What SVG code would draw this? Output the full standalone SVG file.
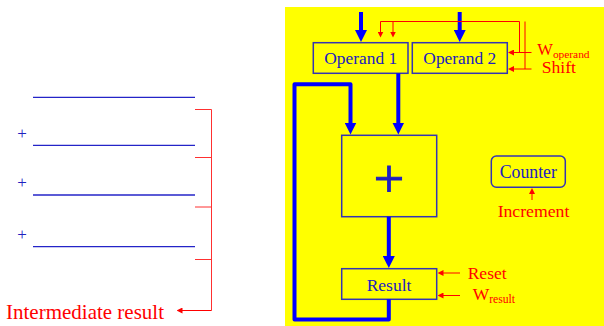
<svg xmlns="http://www.w3.org/2000/svg" width="604" height="326" viewBox="0 0 604 326">
<defs>
<style>
.t{font-family:"Liberation Serif","Times New Roman",serif;}
.bt{fill:#2020c0;}
.rt{fill:#ff0000;}
.box{fill:#ffff00;stroke:#3434b4;stroke-width:1.5;}
.thick{fill:none;stroke:#0000ff;stroke-width:4;stroke-linejoin:round;}
.thin{fill:none;stroke:#ff0000;stroke-width:1;}
.lb{stroke:#2424c8;stroke-width:1.3;}
.br{fill:none;stroke:#ff3030;stroke-width:1;}
</style>
<marker id="ab" markerUnits="userSpaceOnUse" markerWidth="12" markerHeight="12" viewBox="0 0 12 12" refX="1" refY="6" orient="auto">
<path d="M0,0 L12,6 L0,12 z" fill="#0000ff"/>
</marker>
<marker id="ar" markerUnits="userSpaceOnUse" markerWidth="6" markerHeight="6" viewBox="0 0 6 6" refX="0.5" refY="3" orient="auto">
<path d="M0,0 L6,3 L0,6 z" fill="#ff0000"/>
</marker>
</defs>

<!-- left: partial sums -->
<g id="partials">
<line class="lb" x1="33" y1="97.3" x2="195" y2="97.3"/>
<line class="lb" x1="33" y1="145.3" x2="195" y2="145.3"/>
<line class="lb" x1="33" y1="195" x2="195" y2="195"/>
<line class="lb" x1="33" y1="246.7" x2="195" y2="246.7"/>
<text class="t bt" x="22" y="138.5" font-size="17" text-anchor="middle">+</text>
<text class="t bt" x="22" y="188" font-size="17" text-anchor="middle">+</text>
<text class="t bt" x="22" y="239.5" font-size="17" text-anchor="middle">+</text>
</g>
<g id="bracket">
<path class="br" d="M195,109.5 H211.5 V310.5"/>
<line class="br" x1="195" y1="157.5" x2="211.5" y2="157.5"/>
<line class="br" x1="195" y1="207" x2="211.5" y2="207"/>
<line class="br" x1="195" y1="259.5" x2="211.5" y2="259.5"/>
<path class="thin" d="M211.5,310.5 H182" marker-end="url(#ar)"/>
</g>
<g id="intermediate-label">
<text class="t rt" x="6" y="318.5" font-size="21">Intermediate result</text>
</g>

<!-- right: datapath -->
<rect id="background" x="285" y="7" width="319" height="319" fill="#ffff00"/>

<g id="operand1">
<rect class="box" x="313.3" y="42.7" width="94.7" height="30.6"/>
<text class="t bt" x="360.7" y="64" font-size="17.4" text-anchor="middle">Operand 1</text>
</g>
<g id="operand2">
<rect class="box" x="412.3" y="42.7" width="95" height="30.6"/>
<text class="t bt" x="459.8" y="64" font-size="17.4" text-anchor="middle">Operand 2</text>
</g>
<g id="adder">
<rect class="box" x="341.7" y="135.3" width="95" height="81.4"/>
<text class="t bt" x="389" y="197" font-size="54" text-anchor="middle" stroke="#2020c0" stroke-width="1">+</text>
</g>
<g id="result">
<rect class="box" x="341.7" y="268.7" width="95" height="30.6"/>
<text class="t bt" x="389" y="290.7" font-size="17.5" text-anchor="middle">Result</text>
</g>
<g id="counter">
<rect class="box" x="491.3" y="156" width="74" height="31.3" rx="5" ry="5"/>
<text class="t bt" x="528.3" y="177.7" font-size="17.8" text-anchor="middle">Counter</text>
</g>

<g id="connectors">
<path class="thick" d="M361,12 V31" marker-end="url(#ab)"/>
<path class="thick" d="M459.7,12 V31" marker-end="url(#ab)"/>
<path class="thick" d="M398.3,73.3 V123.5" marker-end="url(#ab)"/>
<path class="thick" d="M388.8,216.7 V257" marker-end="url(#ab)"/>
<path class="thick" d="M388.8,299.3 V319.5 H294.5 V84.3 H350.5 V123.5" marker-end="url(#ab)"/>

<path class="thin" d="M519.5,52.5 V21.5 H380.5 V32" marker-end="url(#ar)"/>
<path class="thin" d="M525,69 V21.5"/>
<path class="thin" d="M393,21.5 V32" marker-end="url(#ar)"/>
<path class="thin" d="M531.5,52.5 H513.5" marker-end="url(#ar)"/>
<path class="thin" d="M531.5,69 H513.5" marker-end="url(#ar)"/>
<path class="thin" d="M460,273 H443" marker-end="url(#ar)"/>
<path class="thin" d="M460,295.5 H443" marker-end="url(#ar)"/>
<path class="thin" d="M532,200 V193.5" marker-end="url(#ar)"/>
</g>

<g id="labels">
<text class="t rt" x="537.3" y="54.5" font-size="16.5">W<tspan font-size="11.4" dy="3">operand</tspan></text>
<text class="t rt" x="541.7" y="73.3" font-size="17.6">Shift</text>
<text class="t rt" x="533.5" y="217.3" font-size="17.7" text-anchor="middle">Increment</text>
<text class="t rt" x="467.7" y="278.7" font-size="17.5">Reset</text>
<text class="t rt" x="472.7" y="300" font-size="17.5">W<tspan font-size="11.6" dy="3.3">result</tspan></text>
</g>
</svg>
